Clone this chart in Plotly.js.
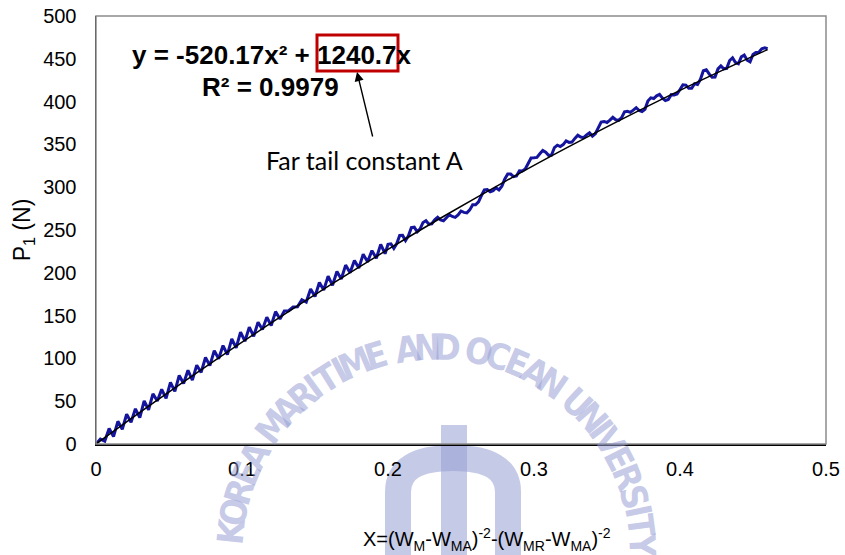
<!DOCTYPE html>
<html>
<head>
<meta charset="utf-8">
<script src="https://cdn.plot.ly/plotly-3.0.1.min.js"></script>
<style>html,body{margin:0;padding:0;background:#fff;}#chart{width:845px;height:555px;}</style>
</head>
<body>
<div id="chart"></div>
<script>
// ---- data ----
const blueX = [0,0.003,0.006,0.009,0.012,0.015,0.018,0.021,0.024,0.027,0.03,0.033,0.036,0.039,0.042,0.045,0.048,0.051,0.054,0.057,0.06,0.063,0.066,0.069,0.072,0.075,0.078,0.081,0.084,0.087,0.09,0.093,0.096,0.099,0.102,0.105,0.108,0.111,0.114,0.117,0.12,0.123,0.126,0.129,0.132,0.135,0.138,0.141,0.144,0.147,0.15,0.153,0.156,0.159,0.162,0.165,0.168,0.171,0.174,0.177,0.18,0.183,0.186,0.189,0.192,0.195,0.198,
  0.2,0.202,0.204,0.206,0.208,0.21,0.212,0.214,0.216,0.218,0.22,0.222,0.224,0.226,0.228,0.23,0.232,0.234,0.236,0.238,0.24,0.242,0.244,0.246,0.248,0.25,0.252,0.254,0.256,0.258,0.26,0.262,0.264,0.266,0.268,0.27,0.272,0.274,0.276,0.278,0.28,0.282,0.284,0.286,0.288,0.29,0.292,0.294,0.296,0.298,0.3,0.302,0.304,0.306,0.308,0.31,0.312,0.314,0.316,0.318,0.32,0.322,0.324,0.326,0.328,0.33,0.332,0.334,0.336,0.338,0.34,0.342,0.344,0.346,0.348,0.35,0.352,0.354,0.356,0.358,0.36,0.362,0.364,0.366,0.368,0.37,0.372,0.374,0.376,0.378,0.38,0.382,0.384,0.386,0.388,0.39,0.392,0.394,0.396,0.398,0.4,0.402,0.404,0.406,0.408,0.41,0.412,0.414,0.416,0.418,0.42,0.422,0.424,0.426,0.428,0.43,0.432,0.434,0.436,0.438,0.44,0.442,0.444,0.446,0.448,0.45,0.452,0.454,0.456,0.458,0.46];
const blueY = [0,5.7,3.4,18.1,8.8,26.5,17.2,34.8,25.5,41.1,30.8,50.4,40.0,58.6,50.2,63.8,53.4,71.9,61.5,80.0,70.6,86.1,74.6,92.1,83.6,101.1,91.6,109.1,99.6,115.0,104.5,122.9,112.3,130.7,120.1,136.5,125.9,142.3,133.7,148.0,138.4,154.7,146.1,155.4,155.7,160.0,160.3,168.6,165.9,181.1,172.4,188.7,179.9,196.1,185.3,201.6,192.8,209.0,200.1,214.3,205.5,221.6,212.8,225.9,217.0,233.2,222.3,
  233.3,233.9,228.5,234.1,243.6,243.7,237.7,243.2,252.7,253.3,247.8,251.3,258.8,260.8,256.8,257.3,261.8,264.8,261.8,260.8,263.8,267.8,265.8,264.8,267.7,272.2,270.6,270.1,273.5,279.5,279.4,282.9,290.3,296.8,297.2,294.6,296.0,299.4,296.8,301.2,309.6,315.5,315.4,312.3,313.2,319.1,318.9,321.3,327.7,334.1,334.4,334.8,339.1,343.0,340.8,337.2,337.5,346.3,349.1,347.5,349.8,354.1,352.4,352.7,357.0,360.8,358.6,357.9,361.2,363.5,359.7,362.5,369.3,376.1,376.8,375.6,378.3,381.6,378.8,378.0,381.2,388.0,388.7,387.4,390.1,392.9,389.6,388.3,391.0,400.7,404.4,403.6,406.7,408.4,404.1,401.3,402.4,408.1,407.8,409.0,414.1,419.7,419.3,415.5,415.6,420.8,419.9,426.0,436.1,437.2,432.3,428.5,428.6,438.2,441.7,438.3,438.9,448.0,451.1,445.7,444.2,452.3,454.3,448.4,446.4,455.0,457.5,457.6,461.6,462.7,461.7];
const trendX = [0,0.04,0.08,0.12,0.16,0.2,0.24,0.28,0.32,0.36,0.4,0.44,0.46];
const trendY = [0,48.8,95.9,141.4,185.2,227.3,267.8,306.6,343.8,379.2,413.1,445.2,460.7];
const xTickVals = [0,0.1,0.2,0.3,0.4,0.5];
const xTickText = ["0","0.1","0.2","0.3","0.4","0.5"];
const yTickVals = [0,50,100,150,200,250,300,350,400,450,500];
const yTickText = ["0","50","100","150","200","250","300","350","400","450","500"];
const eqText = "<b>y = -520.17x² + 1240.7x</b>";
const r2Text = "<b>R² = 0.9979</b>";
const noteText = "Far tail constant A";
const xTitle = "X=(W<sub>M</sub>-W<sub>MA</sub>)<sup>-2</sup>-(W<sub>MR</sub>-W<sub>MA</sub>)<sup>-2</sup>";
const yTitle = "P<sub>1</sub> (N)";
const wmText = "KOREA MARITIME AND OCEAN UNIVERSITY";

// ---- layout helpers (pixel -> paper) ----
const L = 96, R = 826, T = 16, B = 444;
const px = p => (p - L) / (R - L);
const py = p => (B - p) / (B - T);

const wmColor = "rgba(150,158,212,0.55)";
const annotations = [];
const shapes = [];

// watermark letters along an arc
(function(){
  const w = ch => ch === " " ? 0.6 : (ch === "I" ? 0.5 : (ch === "M" ? 1.2 : 1));
  let total = 0; const centers = [];
  for (const ch of wmText) { centers.push(total + w(ch)/2); total += w(ch); }
  const cx = 436, cy = 553, rad = 206;
  const a0 = 174, a1 = 2;
  const lastC = centers[centers.length-1];
  for (let i = 0; i < wmText.length; i++) {
    const ch = wmText[i]; if (ch === " ") continue;
    const th = a0 + (a1 - a0) * (centers[i] - centers[0]) / (lastC - centers[0]);
    const t = th * Math.PI / 180;
    const X = cx + rad * Math.cos(t), Y = cy - rad * Math.sin(t);
    annotations.push({xref:"paper", yref:"paper", x:px(X), y:py(Y), text:"<b>"+ch+"</b>", showarrow:false,
      xanchor:"center", yanchor:"middle", textangle: 90 - th,
      font:{family:"DejaVu Sans Condensed, DejaVu Sans", size:36, color:wmColor, stretch:"condensed"}});
  }
})();

// watermark emblem
shapes.push({type:"path", xref:"paper", yref:"paper", layer:"below",
  path: "M"+px(398)+","+py(570)+" L"+px(398)+","+py(492)+" Q"+px(398)+","+py(458)+" "+px(453)+","+py(458)+" Q"+px(508)+","+py(458)+" "+px(508)+","+py(492)+" L"+px(508)+","+py(570),
  line:{color:wmColor, width:26}});
shapes.push({type:"rect", xref:"paper", yref:"paper", layer:"below",
  x0:px(441), x1:px(467), y0:py(570), y1:py(425), fillcolor:wmColor, line:{width:0}});

// frame top/right in grey
shapes.push({type:"rect", xref:"paper", yref:"paper", x0:0, x1:1, y0:0, y1:1, line:{color:"#8c8c8c", width:1.5}, layer:"above"});
// red box around constant
shapes.push({type:"rect", xref:"paper", yref:"paper", x0:px(317), x1:px(398), y0:py(71), y1:py(35), line:{color:"#c00000", width:3}});

annotations.push({xref:"paper", yref:"paper", x:px(272), y:py(55), text:eqText, showarrow:false, xanchor:"center", yanchor:"middle",
  font:{family:"Liberation Sans, Arial", size:26, color:"#000"}});
annotations.push({xref:"paper", yref:"paper", x:px(270), y:py(87), text:r2Text, showarrow:false, xanchor:"center", yanchor:"middle",
  font:{family:"Liberation Sans, Arial", size:26, color:"#000"}});
annotations.push({xref:"paper", yref:"paper", x:px(364), y:py(160), text:noteText, showarrow:false, xanchor:"center", yanchor:"middle",
  font:{family:"Lato, Open Sans, sans-serif", size:25, color:"#000"}});
annotations.push({xref:"paper", yref:"paper", x:px(357), y:py(72), ax:16, ay:66, text:"", showarrow:true,
  arrowhead:2, arrowsize:1.3, arrowwidth:1.4, arrowcolor:"#000"});
// x axis title
annotations.push({xref:"paper", yref:"paper", x:px(487), y:py(539), text:xTitle, showarrow:false, xanchor:"center", yanchor:"middle",
  font:{family:"Liberation Sans, Arial", size:20, color:"#000"}});

const traces = [
  {x: blueX, y: blueY, type:"scatter", mode:"lines", line:{color:"#14149c", width:3}, showlegend:false, hoverinfo:"skip"},
  {x: trendX, y: trendY, type:"scatter", mode:"lines", line:{color:"#000", width:1.5, shape:"spline"}, showlegend:false, hoverinfo:"skip"}
];

const layout = {
  width:845, height:555,
  margin:{l:L, r:845-R, t:T, b:555-B},
  paper_bgcolor:"#fff", plot_bgcolor:"rgba(0,0,0,0)",
  showlegend:false,
  xaxis:{range:[0,0.5], tickvals:xTickVals, ticktext:xTickText, showgrid:false, zeroline:false,
    showline:true, linecolor:"#000", linewidth:2, ticks:"outside", ticklen:6, tickcolor:"rgba(0,0,0,0)",
    tickfont:{family:"Liberation Sans, Arial", size:20, color:"#000"},
    automargin:false, fixedrange:true},
  yaxis:{range:[0,500], tickvals:yTickVals, ticktext:yTickText, showgrid:false, zeroline:false,
    showline:true, linecolor:"#000", linewidth:1.5, ticks:"outside", ticklen:14, tickcolor:"rgba(0,0,0,0)",
    tickfont:{family:"Liberation Sans, Arial", size:20, color:"#000"},
    title:{text:yTitle, standoff:6, font:{family:"Liberation Sans, Arial", size:23, color:"#000"}},
    automargin:false, fixedrange:true},
  shapes: shapes,
  annotations: annotations
};

Plotly.newPlot("chart", traces, layout, {displayModeBar:false, staticPlot:true});
</script>
</body>
</html>
